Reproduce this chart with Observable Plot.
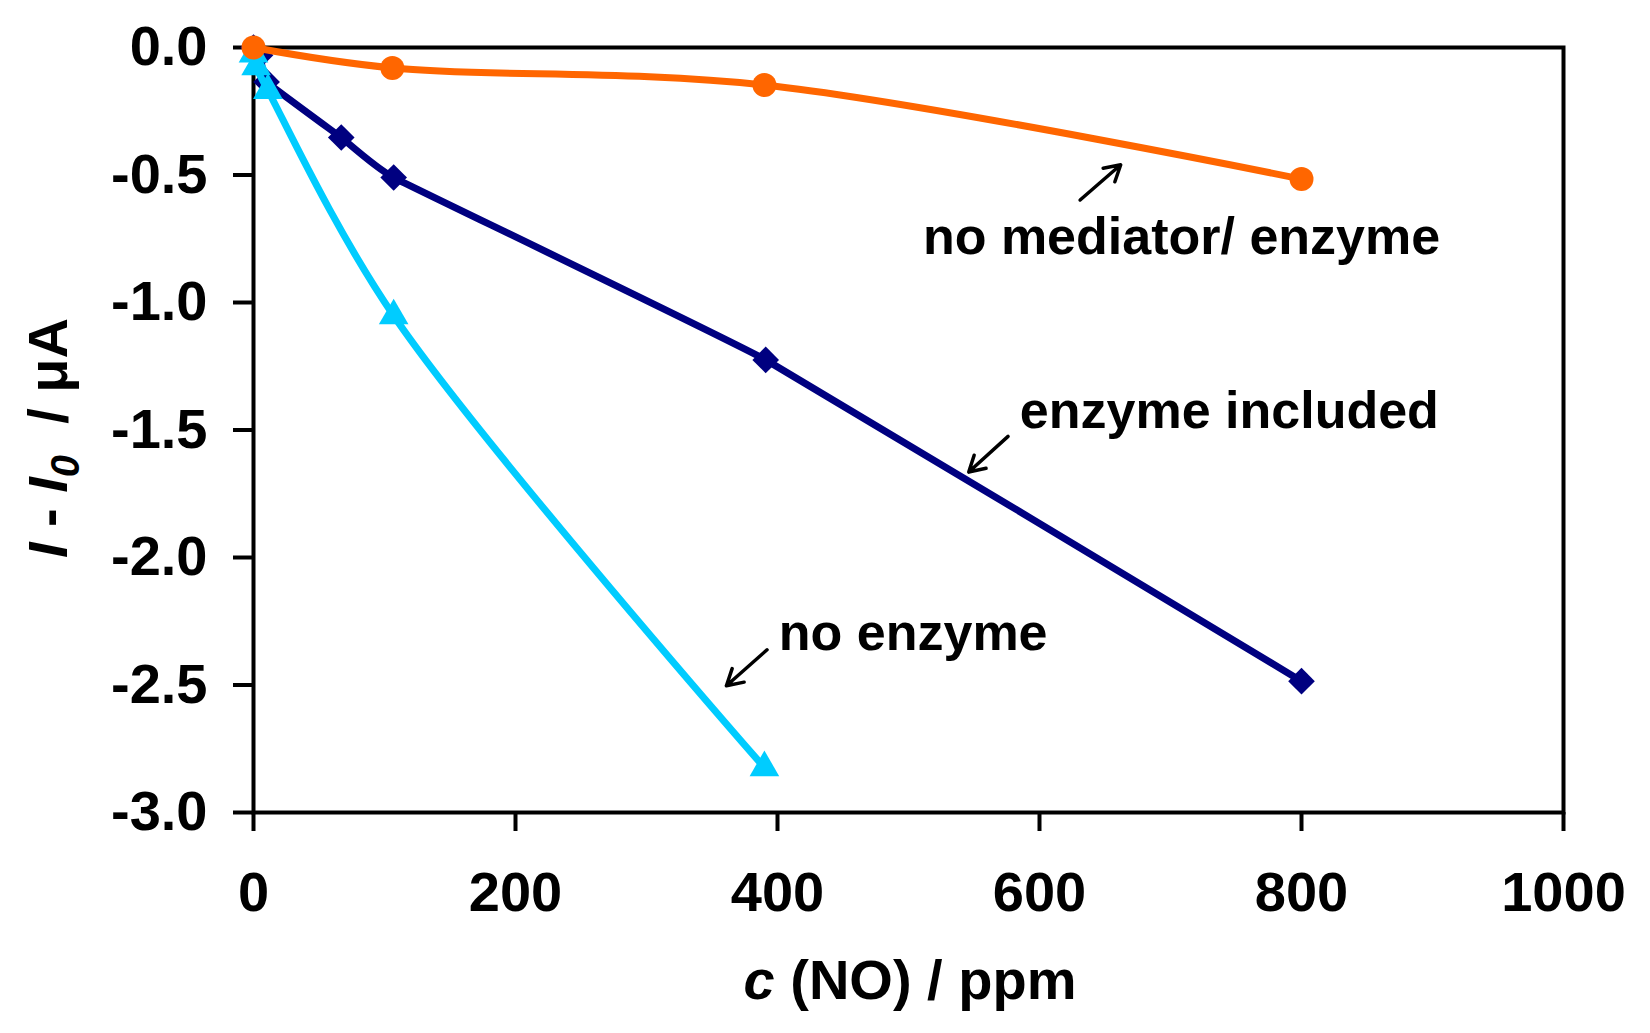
<!DOCTYPE html>
<html><head><meta charset="utf-8">
<script src="https://cdn.jsdelivr.net/npm/d3@7"></script>
<script src="https://cdn.jsdelivr.net/npm/@observablehq/plot@0.6"></script>
<style>
body{margin:0;background:#fff;}
svg text{font-family:"Liberation Sans",Arial,sans-serif;font-weight:bold;}
</style></head><body><div id="chart"></div>
<script>
// ticks
const xTicks = [0, 200, 400, 600, 800, 1000];
const yTicks = [0, -0.5, -1, -1.5, -2, -2.5, -3];
// series
const mediatorX = [0, 106, 390, 800];
const mediatorY = [0, -0.08, -0.147, -0.516];
const enzymeX = [0, 5, 10, 67, 107, 391, 800];
const enzymeY = [0, -0.03, -0.135, -0.353, -0.51, -1.225, -2.485];
const noEnzymeX = [0, 2, 11, 107, 390];
const noEnzymeY = [-0.025, -0.075, -0.168, -1.052, -2.824];
// annotations (data space)
const labelText = ["no mediator/ enzyme", "enzyme included", "no enzyme"];
const labelX = [511, 585, 401];
const labelY = [-0.746, -1.425, -2.299];
const arrowX1 = [631, 576, 392];
const arrowY1 = [-0.598, -1.525, -2.362];
const arrowX2 = [662, 546, 361];
const arrowY2 = [-0.46, -1.665, -2.503];

const toRows = (xs, ys) => xs.map((x, i) => ({x, y: ys[i]}));
const med = toRows(mediatorX, mediatorY);
const enz = toRows(enzymeX, enzymeY);
const noe = toRows(noEnzymeX, noEnzymeY);
const labels = labelText.map((t, i) => ({t, x: labelX[i], y: labelY[i]}));
const arrows = arrowX1.map((x1, i) => ({x1, y1: arrowY1[i], x2: arrowX2[i], y2: arrowY2[i]}));

const W = 1650, H = 1033;
const mL = 253, mR = 87, mT = 47, mB = 221;
const ORANGE = "#FF6600", NAVY = "#000080", CYAN = "#00CCFF";
const fmt = d => d.toFixed(1);

const chart = Plot.plot({
  width: W, height: H,
  marginLeft: mL, marginRight: mR, marginTop: mT, marginBottom: mB,
  style: {fontSize: "56px", fontWeight: "bold", fontFamily: "Liberation Sans, Arial, sans-serif", background: "#fff", color: "#000"},
  x: {domain: [0, 1000]},
  y: {domain: [-3, 0]},
  marks: [
    Plot.axisX({ticks: xTicks, tickSize: 19, tickPadding: 40, strokeWidth: 4, label: null, tickFormat: d => String(d), fontSize: 56}),
    Plot.axisY({ticks: yTicks, tickSize: 20, tickPadding: 26, strokeWidth: 4, label: null, tickFormat: fmt, fontSize: 56}),
    Plot.frame({stroke: "#000", strokeWidth: 4}),
    Plot.line(enz, {x: "x", y: "y", stroke: NAVY, strokeWidth: 7, curve: "cardinal", tension: 0.75}),
    Plot.dot(enz, {x: "x", y: "y", symbol: "diamond2", fill: NAVY, stroke: "none", r: 12}),
    Plot.line(noe, {x: "x", y: "y", stroke: CYAN, strokeWidth: 7, curve: "catmull-rom"}),
    Plot.dot(noe, {x: "x", y: "y", symbol: "triangle", fill: CYAN, stroke: "none", r: 11}),
    Plot.line(med, {x: "x", y: "y", stroke: ORANGE, strokeWidth: 7, curve: "catmull-rom"}),
    Plot.dot(med, {x: "x", y: "y", symbol: "circle", fill: ORANGE, stroke: "none", r: 12}),
    Plot.arrow(arrows, {x1: "x1", y1: "y1", x2: "x2", y2: "y2", stroke: "#000", strokeWidth: 3.5, headLength: 18}),
    Plot.text(labels, {x: "x", y: "y", text: "t", textAnchor: "start", fill: "#000", fontSize: 52, fontWeight: "bold"})
  ]
});
document.getElementById("chart").appendChild(chart);

const svg = d3.select(chart);
// x axis title
const xt = svg.append("text")
  .attr("x", 910).attr("y", 999)
  .attr("text-anchor", "middle")
  .attr("font-size", 56).attr("fill", "#000");
xt.append("tspan").attr("font-style", "italic").text("c");
xt.append("tspan").text(" (NO) / ppm");
// y axis title
const yt = svg.append("text")
  .attr("transform", "translate(67,438) rotate(-90)")
  .attr("text-anchor", "middle")
  .attr("font-size", 56).attr("fill", "#000");
yt.append("tspan").attr("font-style", "italic").text("I");
yt.append("tspan").text(" - ");
yt.append("tspan").attr("font-style", "italic").text("I");
yt.append("tspan").attr("font-style", "italic").attr("font-size", 40).attr("dy", 12).text("0");
yt.append("tspan").attr("dy", -12).text("  / μA");
</script></body></html>
